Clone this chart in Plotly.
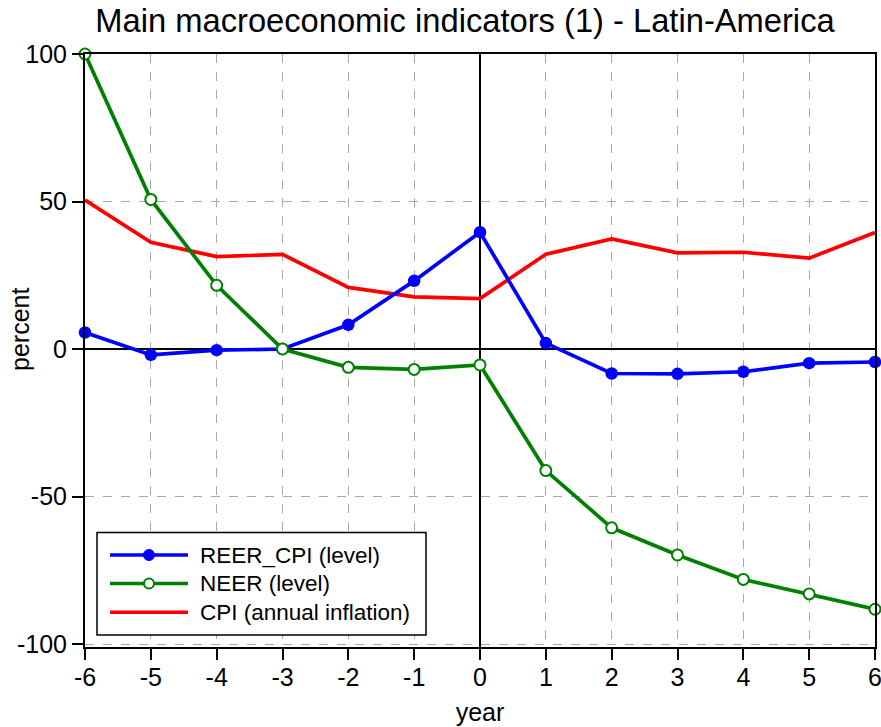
import plotly.graph_objects as go

years = [-6, -5, -4, -3, -2, -1, 0, 1, 2, 3, 4, 5, 6]
reer_cpi = [5.6, -2.0, -0.4, 0.0, 8.2, 23.1, 39.6, 2.0, -8.3, -8.4, -7.7, -4.8, -4.4]
neer = [100.0, 50.7, 21.6, 0.0, -6.2, -6.9, -5.4, -41.2, -60.6, -69.8, -78.1, -83.0, -88.2]
cpi = [50.5, 36.2, 31.3, 32.1, 20.9, 17.7, 17.1, 32.1, 37.3, 32.6, 32.8, 30.8, 39.5]

x_tickvals = years
x_ticktext = ["-6", "-5", "-4", "-3", "-2", "-1", "0", "1", "2", "3", "4", "5", "6"]
y_tickvals = [100, 50, 0, -50, -100]
y_ticktext = ["100", "50", "0", "-50", "-100"]

legend_names = ["REER_CPI (level)", "NEER (level)", "CPI (annual inflation)"]
legend_colors = ["#0000FF", "#008000", "#FF0000"]

FONT = "Liberation Sans, Arial, sans-serif"
W, H = 881, 727
ML, MR, MT, MB = 85, 6, 54, 80
PW, PH = W - ML - MR, H - MT - MB


def px(xp):
    return (xp - ML) / PW


def py(yp):
    return (H - MB - yp) / PH


fig = go.Figure()
fig.add_trace(go.Scatter(
    x=years, y=cpi, mode="lines", name=legend_names[2],
    line=dict(color=legend_colors[2], width=3.7), cliponaxis=False,
))
fig.add_trace(go.Scatter(
    x=years, y=reer_cpi, mode="lines+markers", name=legend_names[0],
    line=dict(color=legend_colors[0], width=3.7),
    marker=dict(symbol="circle", size=12.5, color=legend_colors[0]),
    cliponaxis=False,
))
fig.add_trace(go.Scatter(
    x=years, y=neer, mode="lines+markers", name=legend_names[1],
    line=dict(color=legend_colors[1], width=3.7),
    marker=dict(symbol="circle", size=11, color="white",
                line=dict(color=legend_colors[1], width=2)),
    cliponaxis=False,
))

# manual legend (box, sample lines, markers, labels)
shapes = [dict(type="rect", xref="paper", yref="paper",
               x0=px(97), x1=px(426), y0=py(635), y1=py(532.5),
               line=dict(color="black", width=1.5), fillcolor="white", layer="above")]
annotations = []
rows = [555, 583.5, 612.3]
for i, (name, col) in enumerate(zip(legend_names, legend_colors)):
    yy = py(rows[i])
    shapes.append(dict(type="line", xref="paper", yref="paper",
                       x0=px(110), x1=px(188), y0=yy, y1=yy,
                       line=dict(color=col, width=3.5), layer="above"))
    if i == 0:
        shapes.append(dict(type="circle", xref="paper", yref="paper",
                           x0=px(143.5), x1=px(154.5), y0=py(rows[i] + 5.5), y1=py(rows[i] - 5.5),
                           fillcolor=col, line=dict(color=col, width=1), layer="above"))
    elif i == 1:
        shapes.append(dict(type="circle", xref="paper", yref="paper",
                           x0=px(144), x1=px(154), y0=py(rows[i] + 5), y1=py(rows[i] - 5),
                           fillcolor="white", line=dict(color=col, width=2), layer="above"))
    annotations.append(dict(text=name, xref="paper", yref="paper",
                            x=px(198), y=yy, xanchor="left", yanchor="middle",
                            showarrow=False, font=dict(size=22.5, family=FONT, color="black")))

# y-axis title
annotations.append(dict(text="percent", xref="paper", yref="paper",
                        x=px(20), y=py(330), xanchor="center", yanchor="middle",
                        textangle=-90, showarrow=False,
                        font=dict(size=25, family=FONT, color="black")))

fig.update_layout(
    width=W, height=H,
    margin=dict(l=ML, r=MR, t=MT, b=MB),
    paper_bgcolor="white", plot_bgcolor="white",
    font=dict(family=FONT, color="black", size=24),
    title=dict(text="Main macroeconomic indicators (1) - Latin-America",
               font=dict(size=32.7, family=FONT, color="black"),
               x=465/881, xref="container", xanchor="center",
               y=1 - 21/727, yref="container", yanchor="middle"),
    showlegend=False,
    shapes=shapes,
    annotations=annotations,
    xaxis=dict(
        range=[-6, 6], tickmode="array", tickvals=x_tickvals, ticktext=x_ticktext,
        showgrid=True, gridcolor="#a8a8a8", griddash="dash", gridwidth=1,
        zeroline=True, zerolinecolor="black", zerolinewidth=1.5,
        showline=True, linecolor="black", linewidth=2, mirror=True,
        ticks="outside", ticklen=11, tickwidth=1.5, tickcolor="black",
        tickfont=dict(size=25), automargin=False, ticklabeloverflow="allow",
        ticklabelstandoff=-4,
        title=dict(text="year", font=dict(size=25), standoff=13),
    ),
    yaxis=dict(
        range=[-101, 100], tickmode="array", tickvals=y_tickvals, ticktext=y_ticktext,
        showgrid=True, gridcolor="#a8a8a8", griddash="dash", gridwidth=1,
        zeroline=True, zerolinecolor="black", zerolinewidth=1.5,
        showline=True, linecolor="black", linewidth=2, mirror=True,
        ticks="outside", ticklen=11, tickwidth=1.5, tickcolor="black",
        tickfont=dict(size=25), automargin=False, ticklabeloverflow="allow",
    ),
)

fig.write_html("out.html")
